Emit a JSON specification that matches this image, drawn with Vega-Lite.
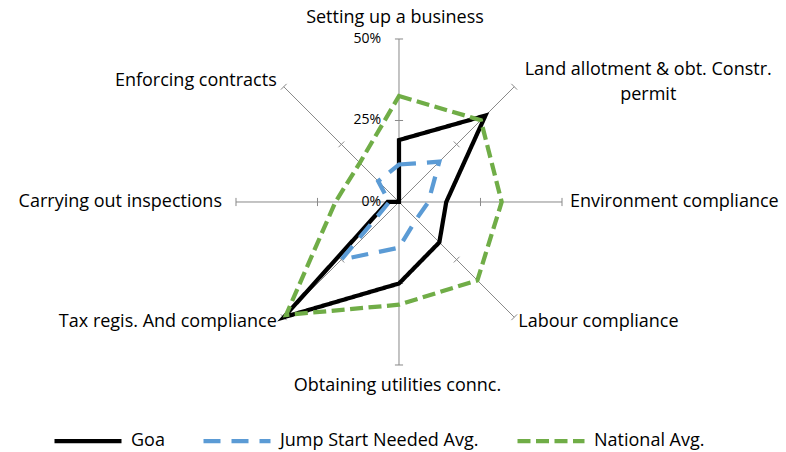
{
  "$schema": "https://vega.github.io/schema/vega-lite/v6.json",
  "width": 786,
  "height": 452,
  "autosize": {"type": "none"},
  "padding": 0,
  "config": {
    "view": {"stroke": null},
    "font": "Open Sans",
    "text": {"font": "Open Sans", "fontSize": 18, "color": "#000000"}
  },
  "datasets": {
    "cats": [
      {"k": 0, "category": "Setting up a business"},
      {"k": 1, "category": "Land allotment & obt. Constr.\npermit"},
      {"k": 2, "category": "Environment compliance"},
      {"k": 3, "category": "Labour compliance"},
      {"k": 4, "category": "Obtaining utilities connc."},
      {"k": 5, "category": "Tax regis. And compliance"},
      {"k": 6, "category": "Carrying out inspections"},
      {"k": 7, "category": "Enforcing contracts"}
    ],
    "scores": [
      {"series": "Goa", "k": 0, "value": 19},
      {"series": "Goa", "k": 1, "value": 37.5},
      {"series": "Goa", "k": 2, "value": 14.5},
      {"series": "Goa", "k": 3, "value": 17.5},
      {"series": "Goa", "k": 4, "value": 25},
      {"series": "Goa", "k": 5, "value": 50},
      {"series": "Goa", "k": 6, "value": 3.5},
      {"series": "Goa", "k": 7, "value": 0},
      {"series": "Jump Start Needed Avg.", "k": 0, "value": 11.5},
      {"series": "Jump Start Needed Avg.", "k": 1, "value": 17.5},
      {"series": "Jump Start Needed Avg.", "k": 2, "value": 9},
      {"series": "Jump Start Needed Avg.", "k": 3, "value": 7.5},
      {"series": "Jump Start Needed Avg.", "k": 4, "value": 14},
      {"series": "Jump Start Needed Avg.", "k": 5, "value": 25},
      {"series": "Jump Start Needed Avg.", "k": 6, "value": 3},
      {"series": "Jump Start Needed Avg.", "k": 7, "value": 9},
      {"series": "National Avg.", "k": 0, "value": 32.5},
      {"series": "National Avg.", "k": 1, "value": 35.5},
      {"series": "National Avg.", "k": 2, "value": 31.5},
      {"series": "National Avg.", "k": 3, "value": 34},
      {"series": "National Avg.", "k": 4, "value": 31.5},
      {"series": "National Avg.", "k": 5, "value": 49},
      {"series": "National Avg.", "k": 6, "value": 19.5},
      {"series": "National Avg.", "k": 7, "value": 17}
    ],
    "gridlabels": [
      {"label": "0%", "r": 0},
      {"label": "25%", "r": 25},
      {"label": "50%", "r": 50}
    ]
  },
  "encoding": {
    "x": {"field": "x", "type": "quantitative", "scale": {"domain": [-122.39, 118.71], "nice": false, "zero": false}, "axis": null},
    "y": {"field": "y", "type": "quantitative", "scale": {"domain": [-76.69, 61.96], "nice": false, "zero": false}, "axis": null}
  },
  "layer": [
    {
      "data": {"name": "cats"},
      "transform": [
        {"calculate": "datum.k*PI/4", "as": "a"},
        {"calculate": "0", "as": "x"},
        {"calculate": "0", "as": "y"},
        {"calculate": "50*sin(datum.a)", "as": "x2"},
        {"calculate": "50*cos(datum.a)", "as": "y2"}
      ],
      "mark": {"type": "rule", "color": "#898989", "strokeWidth": 1},
      "encoding": {"x2": {"field": "x2"}, "y2": {"field": "y2"}}
    },
    {
      "data": {"name": "cats"},
      "transform": [
        {"calculate": "datum.k*PI/4", "as": "a"},
        {"calculate": "25", "as": "t25"},
        {"calculate": "50", "as": "t50"},
        {"fold": ["t25", "t50"], "as": ["tk", "r"]},
        {"calculate": "datum.r*sin(datum.a) - 1.25*cos(datum.a)", "as": "x"},
        {"calculate": "datum.r*sin(datum.a) + 1.25*cos(datum.a)", "as": "x2"},
        {"calculate": "datum.r*cos(datum.a) + 1.25*sin(datum.a)", "as": "y"},
        {"calculate": "datum.r*cos(datum.a) - 1.25*sin(datum.a)", "as": "y2"}
      ],
      "mark": {"type": "rule", "color": "#898989", "strokeWidth": 1},
      "encoding": {"x2": {"field": "x2"}, "y2": {"field": "y2"}}
    },
    {
      "data": {"name": "gridlabels"},
      "transform": [
        {"calculate": "0", "as": "x"},
        {"calculate": "datum.r", "as": "y"}
      ],
      "mark": {"type": "text", "align": "right", "baseline": "middle", "dx": -18, "fontSize": 14},
      "encoding": {"text": {"field": "label"}}
    },
    {
      "data": {"name": "scores"},
      "transform": [
        {"calculate": "datum.k*PI/4", "as": "a"},
        {"calculate": "datum.value*sin(datum.a)", "as": "x"},
        {"calculate": "datum.value*cos(datum.a)", "as": "y"}
      ],
      "mark": {"type": "line", "interpolate": "linear-closed", "strokeWidth": 4.25, "strokeJoin": "miter", "strokeMiterLimit": 10, "strokeCap": "butt"},
      "encoding": {
        "order": {"field": "k", "type": "quantitative"},
        "color": {
          "field": "series", "type": "nominal",
          "scale": {"domain": ["Goa", "Jump Start Needed Avg.", "National Avg."], "range": ["#000000", "#5B9BD5", "#70AD47"]},
          "legend": {"orient": "none", "legendX": 52, "legendY": 405, "direction": "horizontal", "title": null, "symbolType": "stroke", "symbolSize": 4489, "symbolStrokeWidth": 4.25, "labelFontSize": 18, "labelFont": "Open Sans", "labelColor": "#000000", "labelOffset": 7, "columnPadding": 30, "padding": 0, "labelLimit": 400}
        },
        "strokeDash": {
          "field": "series", "type": "nominal",
          "scale": {"domain": ["Goa", "Jump Start Needed Avg.", "National Avg."], "range": [[1, 0], [17, 11], [13, 5.5]]},
          "legend": {"orient": "none", "legendX": 52, "legendY": 405, "direction": "horizontal", "title": null, "symbolType": "stroke", "symbolSize": 4489, "symbolStrokeWidth": 4.25, "labelFontSize": 18, "labelFont": "Open Sans", "labelColor": "#000000", "labelOffset": 7, "columnPadding": 30, "padding": 0, "labelLimit": 400}
        }
      }
    },
    {
      "data": {"name": "cats"},
      "transform": [{"filter": "datum.k==0"}, {"calculate": "50*sin(datum.k*PI/4)", "as": "x"}, {"calculate": "50*cos(datum.k*PI/4)", "as": "y"}],
      "mark": {"type": "text", "align": "center", "baseline": "middle", "dx": -4, "dy": -21},
      "encoding": {"text": {"field": "category"}}
    },
    {
      "data": {"name": "cats"},
      "transform": [{"filter": "datum.k==1"}, {"calculate": "50*sin(datum.k*PI/4)", "as": "x"}, {"calculate": "50*cos(datum.k*PI/4)", "as": "y"}],
      "mark": {"type": "text", "align": "center", "baseline": "middle", "dx": 134, "dy": -17, "lineBreak": "\n", "lineHeight": 25},
      "encoding": {"text": {"field": "category"}}
    },
    {
      "data": {"name": "cats"},
      "transform": [{"filter": "datum.k==2"}, {"calculate": "50*sin(datum.k*PI/4)", "as": "x"}, {"calculate": "50*cos(datum.k*PI/4)", "as": "y"}],
      "mark": {"type": "text", "align": "left", "baseline": "middle", "dx": 8, "dy": 0},
      "encoding": {"text": {"field": "category"}}
    },
    {
      "data": {"name": "cats"},
      "transform": [{"filter": "datum.k==3"}, {"calculate": "50*sin(datum.k*PI/4)", "as": "x"}, {"calculate": "50*cos(datum.k*PI/4)", "as": "y"}],
      "mark": {"type": "text", "align": "left", "baseline": "middle", "dx": 4, "dy": 5},
      "encoding": {"text": {"field": "category"}}
    },
    {
      "data": {"name": "cats"},
      "transform": [{"filter": "datum.k==4"}, {"calculate": "50*sin(datum.k*PI/4)", "as": "x"}, {"calculate": "50*cos(datum.k*PI/4)", "as": "y"}],
      "mark": {"type": "text", "align": "center", "baseline": "middle", "dx": -1.5, "dy": 21},
      "encoding": {"text": {"field": "category"}}
    },
    {
      "data": {"name": "cats"},
      "transform": [{"filter": "datum.k==5"}, {"calculate": "50*sin(datum.k*PI/4)", "as": "x"}, {"calculate": "50*cos(datum.k*PI/4)", "as": "y"}],
      "mark": {"type": "text", "align": "right", "baseline": "middle", "dx": -7, "dy": 5},
      "encoding": {"text": {"field": "category"}}
    },
    {
      "data": {"name": "cats"},
      "transform": [{"filter": "datum.k==6"}, {"calculate": "50*sin(datum.k*PI/4)", "as": "x"}, {"calculate": "50*cos(datum.k*PI/4)", "as": "y"}],
      "mark": {"type": "text", "align": "right", "baseline": "middle", "dx": -14, "dy": 0},
      "encoding": {"text": {"field": "category"}}
    },
    {
      "data": {"name": "cats"},
      "transform": [{"filter": "datum.k==7"}, {"calculate": "50*sin(datum.k*PI/4)", "as": "x"}, {"calculate": "50*cos(datum.k*PI/4)", "as": "y"}],
      "mark": {"type": "text", "align": "right", "baseline": "middle", "dx": -7, "dy": -6},
      "encoding": {"text": {"field": "category"}}
    }
  ]
}
